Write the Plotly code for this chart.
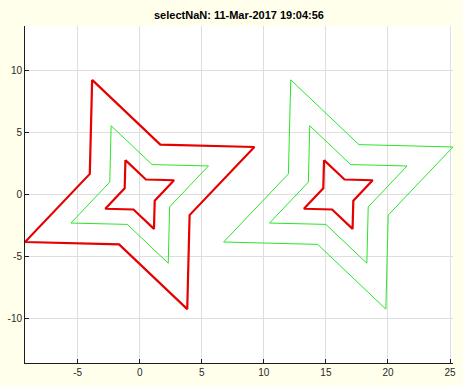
import plotly.graph_objects as go

# Left group (centre x = 0)
outer_L_x = [-3.83, 1.66, 9.24, 4.02, 3.83, -1.66, -9.24, -4.02, -3.83]
outer_L_y = [9.24, 4.02, 3.83, -1.66, -9.24, -4.02, -3.83, 1.66, 9.24]
mid_L_x = [-2.30, 1.00, 5.54, 2.41, 2.30, -1.00, -5.54, -2.41, -2.30]
mid_L_y = [5.54, 2.41, 2.30, -1.00, -5.54, -2.41, -2.30, 1.00, 5.54]
inner_L_x = [-1.15, 0.50, 2.77, 1.21, 1.15, -0.50, -2.77, -1.21, -1.15]
inner_L_y = [2.77, 1.21, 1.15, -0.50, -2.77, -1.21, -1.15, 0.50, 2.77]

# Right group (centre x = 16)
outer_R_x = [12.17, 17.66, 25.24, 20.02, 19.83, 14.34, 6.76, 11.98, 12.17]
outer_R_y = [9.24, 4.02, 3.83, -1.66, -9.24, -4.02, -3.83, 1.66, 9.24]
mid_R_x = [13.70, 17.00, 21.54, 18.41, 18.30, 15.00, 10.46, 13.59, 13.70]
mid_R_y = [5.54, 2.41, 2.30, -1.00, -5.54, -2.41, -2.30, 1.00, 5.54]
inner_R_x = [14.85, 16.50, 18.77, 17.21, 17.15, 15.50, 13.23, 14.79, 14.85]
inner_R_y = [2.77, 1.21, 1.15, -0.50, -2.77, -1.21, -1.15, 0.50, 2.77]

x_ticks = [-5, 0, 5, 10, 15, 20, 25]
y_ticks = [-10, -5, 0, 5, 10]
title_text = "selectNaN: 11-Mar-2017 19:04:56"

RED = "rgb(230,0,0)"
GREEN = "rgb(40,230,40)"

fig = go.Figure()
series = [
    (mid_L_x, mid_L_y, GREEN, 1),
    (outer_R_x, outer_R_y, GREEN, 1),
    (mid_R_x, mid_R_y, GREEN, 1),
    (outer_L_x, outer_L_y, RED, 2.2),
    (inner_L_x, inner_L_y, RED, 2.2),
    (inner_R_x, inner_R_y, RED, 2.2),
]
for xs, ys, c, w in series:
    fig.add_trace(go.Scatter(x=xs, y=ys, mode="lines",
                             line=dict(color=c, width=w),
                             showlegend=False, hoverinfo="skip"))

axis_common = dict(
    showgrid=True, gridcolor="rgb(222,222,222)", gridwidth=1,
    zeroline=False, showline=True, linecolor="rgb(30,30,30)", linewidth=1,
    mirror=False, ticks="inside", ticklen=4, tickcolor="rgb(30,30,30)",
    tickfont=dict(family="Liberation Sans, Arial, sans-serif", size=10,
                  color="rgb(40,40,40)"),
)

fig.update_layout(
    width=463, height=386,
    margin=dict(l=23, r=7.5, t=26, b=18.5),
    paper_bgcolor="rgb(255,255,236)",
    plot_bgcolor="white",
    title=dict(text=title_text, x=0.5, xref="paper", y=1 - 15 / 386,
               yref="container", yanchor="middle", xanchor="center",
               font=dict(family="Liberation Sans, Arial, sans-serif", size=11,
                         color="black", weight="bold")),
    xaxis=dict(range=[-9.24, 25.24], tickvals=x_ticks,
               ticktext=[str(v) for v in x_ticks], **axis_common),
    yaxis=dict(range=[-13.58, 13.58], tickvals=y_ticks,
               ticktext=[str(v) for v in y_ticks], **axis_common),
)

fig.write_html("out.html")
